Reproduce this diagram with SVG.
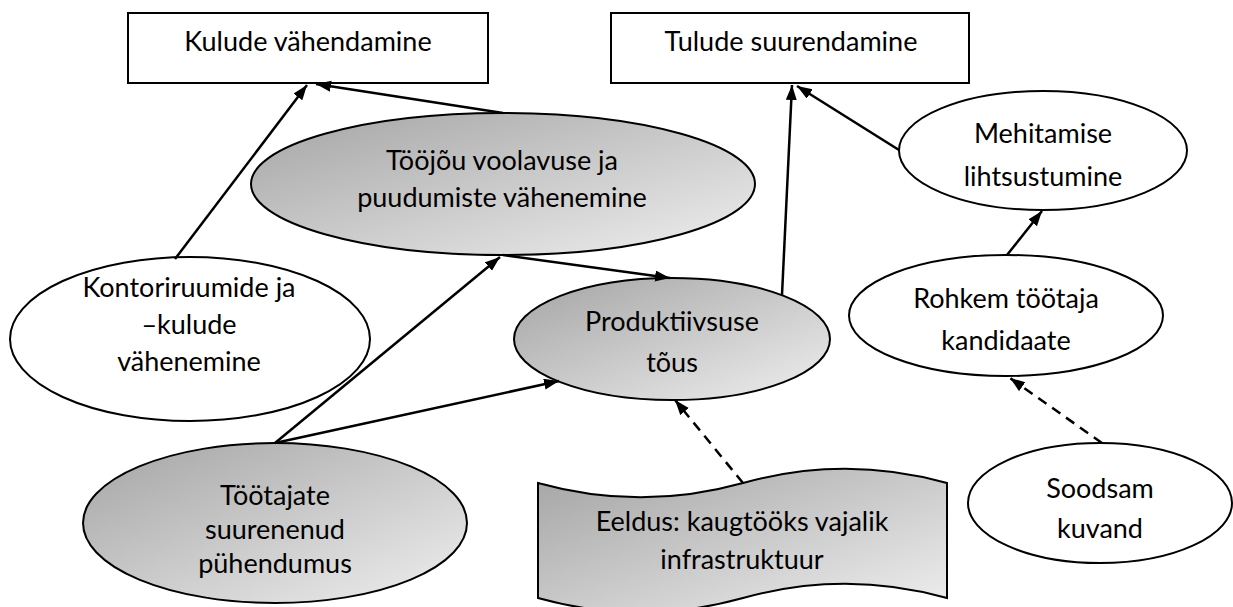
<svg xmlns="http://www.w3.org/2000/svg" width="1233" height="607" viewBox="0 0 1233 607">
  <defs>
    <linearGradient id="shade" x1="0" y1="0" x2="1" y2="1">
      <stop offset="0" stop-color="#a4a4a4"/>
      <stop offset="1" stop-color="#efefef"/>
    </linearGradient>
    <marker id="head" markerUnits="userSpaceOnUse" markerWidth="16" markerHeight="12" refX="15" refY="5.5" orient="auto">
      <path d="M0,0 L15,5.5 L0,11 Z" fill="#000"/>
    </marker>
    <style>
      .box { fill: #fff; stroke: #000; stroke-width: 2; }
      .plain { fill: #fff; stroke: #000; stroke-width: 2; }
      .shaded { fill: url(#shade); stroke: #000; stroke-width: 2; }
      .lbl { font-family: Lato, "Liberation Sans", sans-serif; font-size: 27px; fill: #000; text-anchor: middle; }
      .link { fill: none; stroke: #000; stroke-width: 2.5; marker-end: url(#head); }
      .dash { stroke-dasharray: 10 7; }
    </style>
  </defs>

  <!-- goals -->
  <g id="kulude">
    <rect class="box" x="128" y="13" width="360" height="70"/>
    <text class="lbl" x="308" y="51">Kulude vähendamine</text>
  </g>
  <g id="tulude">
    <rect class="box" x="611" y="13" width="358" height="70"/>
    <text class="lbl" x="791" y="51">Tulude suurendamine</text>
  </g>

  <!-- effects -->
  <g id="toojou">
    <ellipse class="shaded" cx="503" cy="184" rx="252" ry="71"/>
    <text class="lbl" x="502" y="170">Tööjõu voolavuse ja</text>
    <text class="lbl" x="502" y="207">puudumiste vähenemine</text>
  </g>
  <g id="mehitamine">
    <ellipse class="plain" cx="1043" cy="150.5" rx="144" ry="59.5"/>
    <text class="lbl" x="1043" y="143">Mehitamise</text>
    <text class="lbl" x="1043" y="186">lihtsustumine</text>
  </g>
  <g id="kontor">
    <ellipse class="plain" cx="190" cy="339" rx="180" ry="82"/>
    <text class="lbl" x="189" y="297">Kontoriruumide ja</text>
    <text class="lbl" x="189" y="334">–kulude</text>
    <text class="lbl" x="189" y="371">vähenemine</text>
  </g>
  <g id="produktiivsus">
    <ellipse class="shaded" cx="672" cy="339" rx="158" ry="61"/>
    <text class="lbl" x="672" y="331">Produktiivsuse</text>
    <text class="lbl" x="672" y="372">tõus</text>
  </g>
  <g id="kandidaadid">
    <ellipse class="plain" cx="1006" cy="315.5" rx="157" ry="60.5"/>
    <text class="lbl" x="1006" y="308">Rohkem töötaja</text>
    <text class="lbl" x="1006" y="350">kandidaate</text>
  </g>

  <!-- causes -->
  <g id="puhendumus">
    <ellipse class="shaded" cx="275" cy="523" rx="192" ry="80"/>
    <text class="lbl" x="275" y="505">Töötajate</text>
    <text class="lbl" x="275" y="539">suurenenud</text>
    <text class="lbl" x="275" y="573">pühendumus</text>
  </g>
  <g id="eeldus">
    <path class="shaded" d="M538,483 C606,502 675,502 743,483 C811,464 879,464 947,483 L947,598 C879,579 811,579 743,598 C675,617 606,617 538,598 Z"/>
    <text class="lbl" x="742" y="531">Eeldus: kaugtööks vajalik</text>
    <text class="lbl" x="742" y="569">infrastruktuur</text>
  </g>
  <g id="kuvand">
    <ellipse class="plain" cx="1100" cy="503" rx="132" ry="60"/>
    <text class="lbl" x="1100" y="498">Soodsam</text>
    <text class="lbl" x="1100" y="538">kuvand</text>
  </g>

  <!-- connectors -->
  <g id="connectors">
    <line class="link" x1="175" y1="259" x2="307" y2="85"/>
    <line class="link" x1="503" y1="113" x2="316" y2="84"/>
    <line class="link" x1="782" y1="295" x2="792" y2="85"/>
    <line class="link" x1="899" y1="150" x2="797" y2="86"/>
    <line class="link" x1="1007" y1="255" x2="1042" y2="211"/>
    <line class="link" x1="503" y1="255" x2="670" y2="278"/>
    <line class="link" x1="275" y1="443" x2="500" y2="257"/>
    <line class="link" x1="275" y1="443" x2="559" y2="381"/>
    <line class="link dash" x1="743" y1="483" x2="675" y2="400"/>
    <line class="link dash" x1="1102" y1="443" x2="1010" y2="378"/>
  </g>
</svg>
